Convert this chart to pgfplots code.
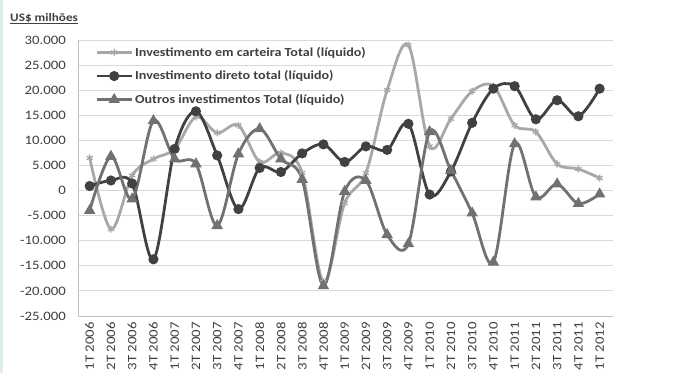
\documentclass[border=0pt]{standalone}
\usepackage{fontspec}
\setmainfont[FakeStretch=1.15]{Carlito}
\usepackage{pgfplots}
\usepackage{pgfplotstable}
\pgfplotsset{compat=1.18}

\definecolor{carteira}{HTML}{A8A8A8}
\definecolor{direto}{HTML}{414141}
\definecolor{outros}{HTML}{717171}
\definecolor{gridc}{HTML}{D9D9D9}
\definecolor{axisc}{HTML}{BFBFBF}
\definecolor{txt}{HTML}{404040}
\definecolor{mint}{HTML}{DCEFE8}

% Fluxos trimestrais, US$ milhoes
\pgfplotstableread{
idx carteira direto outros
0   6500    900   -4000
1  -7700   2000    6800
2   3000   1400   -1700
3   6300 -13700   13900
4   8300   8300    6300
5  14700  15800    5300
6  11500   7000   -7000
7  13000  -3700    7300
8   5700   4500   12300
9   7500   3700    6300
10  3500   7400    2200
11 -18200  9200  -19000
12 -2500   5700    -200
13  3500   8800    2000
14 20000   8100   -8800
15 29000  13300  -10600
16  8800   -800   11700
17 14300   3800    4000
18 19800  13500   -4500
19 20800  20300  -14300
20 13000  20800    9300
21 11700  14200   -1300
22  5300  18000    1300
23  4300  14800   -2600
24  2500  20300    -700
}\dados

\begin{document}
\begin{tikzpicture}[x=1bp,y=1bp]
\fill[white] (0,0) rectangle (681,373);
\fill[mint] (0,0) rectangle (3,373);
\node[anchor=base west, inner sep=0, text=txt,
      font=\fontsize{11.5}{13}\selectfont\bfseries] at (10,352) {\underline{US\$ milhões}};
\begin{axis}[
  at={(78bp,57bp)}, anchor=south west,
  scale only axis, width=535bp, height=276bp,
  xmin=-0.55, xmax=24.63, ymin=-25000, ymax=30000,
  ytick={-25000,-20000,...,30000},
  xtick={0,...,24},
  xticklabels={1T 2006,2T 2006,3T 2006,4T 2006,1T 2007,2T 2007,3T 2007,4T 2007,
               1T 2008,2T 2008,3T 2008,4T 2008,1T 2009,2T 2009,3T 2009,4T 2009,
               1T 2010,2T 2010,3T 2010,4T 2010,1T 2011,2T 2011,3T 2011,4T 2011,1T 2012},
  axis x line*=bottom, axis y line*=left,
  axis line style={-, draw=axisc, line width=1bp},
  major tick length=0pt,
  ymajorgrids, grid style={gridc, line width=1bp},
  scaled ticks=false,
  /pgf/number format/.cd, assume math mode=true, 1000 sep={.}, /pgfplots/.cd,
  tick label style={text=txt, font=\fontsize{12.9}{14}\selectfont, inner sep=0pt},
  xticklabel style={rotate=90, anchor=east},
  yticklabel style={anchor=east},
  xticklabel shift=6bp, yticklabel shift=12bp,
  legend cell align=left,
  legend style={draw=none, fill=none, at={(0.032,0.982)}, anchor=north west,
    inner sep=0pt, row sep=9bp,
    font=\fontsize{12.3}{14}\selectfont\bfseries,
    nodes={inner sep=2bp, text=txt}},
  legend image code/.code={\draw[mark repeat=2,mark phase=2,#1]
     plot coordinates {(0bp,0bp) (17.5bp,0bp) (35bp,0bp)};},
  every axis plot/.append style={line width=2.8bp, smooth, tension=0.55},
]
\addplot[carteira, mark=asterisk, mark size=3.5bp,
  mark options={line width=1.3bp}] table[x=idx, y=carteira] {\dados};
\addlegendentry{Investimento em carteira Total (líquido)}
\addplot[direto, mark=*, mark size=3.6bp] table[x=idx, y=direto] {\dados};
\addlegendentry{Investimento direto total (líquido)}
\addplot[outros, mark=triangle*, mark size=3.9bp] table[x=idx, y=outros] {\dados};
\addlegendentry{Outros investimentos Total (líquido)}
\end{axis}
\pgfresetboundingbox
\path (0,0) rectangle (681,373);
\end{tikzpicture}
\end{document}
